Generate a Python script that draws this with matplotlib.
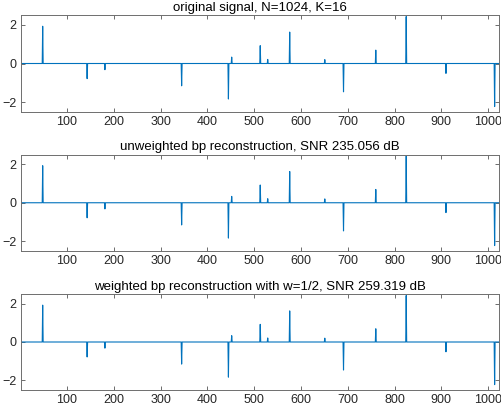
import numpy as np
import matplotlib.pyplot as plt

plt.rcParams['font.family'] = ['Liberation Sans', 'DejaVu Sans']

N = 1024
# spike positions (1-based) and amplitudes
spike_idx = [48, 143, 181, 345, 445, 452, 513, 529, 576, 651, 691, 760, 825, 910, 1014]
spike_val = [1.92, -0.78, -0.32, -1.15, -1.83, 0.33, 0.92, 0.21, 1.62, 0.20,
             -1.46, 0.69, 2.42, -0.51, -2.22]

titles = [
    "original signal, N=1024, K=16",
    "unweighted bp reconstruction, SNR 235.056 dB",
    "weighted bp reconstruction with w=1/2, SNR 259.319 dB",
]

x = np.arange(1, N + 1)
sig = np.zeros(N)
sig[np.array(spike_idx) - 1] = spike_val

fig = plt.figure(figsize=(5.02, 4.13), dpi=100)
W, H = 502, 413
boxes = [(15, 112), (154.5, 251), (294, 390)]
left, right = 20.7, 499.3

for (top, bot), ttl in zip(boxes, titles):
    ax = fig.add_axes([left / W, 1 - bot / H, (right - left) / W, (bot - top) / H])
    ax.plot(x, sig, color='#0072BD', linewidth=0.8)
    ax.set_xlim(1, N)
    ax.set_ylim(-2.5, 2.5)
    ax.set_xticks(np.arange(100, 1001, 100))
    ax.set_yticks([-2, 0, 2])
    ax.tick_params(direction='in', top=True, right=True, length=3, width=0.6,
                   color='#555555', labelcolor='#262626', labelsize=9, pad=3)
    for s in ax.spines.values():
        s.set_color('#6e6e6e')
        s.set_linewidth(0.7)
    ax.set_title(ttl, fontsize=9.5, color='black', pad=3)

fig.savefig('out.png', dpi=100)
